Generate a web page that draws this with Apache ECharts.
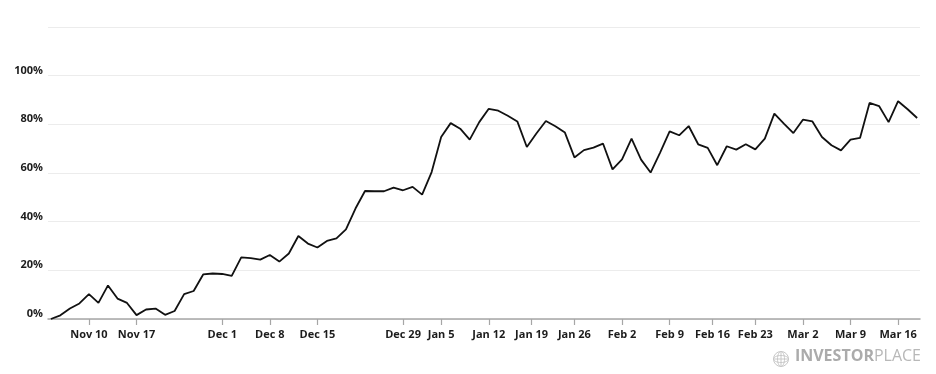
<!DOCTYPE html>
<html>
<head>
<meta charset="utf-8">
<script src="https://cdn.jsdelivr.net/npm/echarts@6/dist/echarts.min.js"></script>
<style>
  html, body { margin: 0; padding: 0; background: #fff; }
  #chart { width: 936px; height: 374px; }
</style>
</head>
<body>
<div id="chart"></div>
<script>
// Trading days shown on the chart
const dates = [
  '2025-11-04','2025-11-05','2025-11-06','2025-11-07','2025-11-10','2025-11-11','2025-11-12','2025-11-13','2025-11-14',
  '2025-11-17','2025-11-18','2025-11-19','2025-11-20','2025-11-21','2025-11-24','2025-11-25','2025-11-26','2025-11-28',
  '2025-12-01','2025-12-02','2025-12-03','2025-12-04','2025-12-05','2025-12-08','2025-12-09','2025-12-10','2025-12-11','2025-12-12',
  '2025-12-15','2025-12-16','2025-12-17','2025-12-18','2025-12-19','2025-12-22','2025-12-23','2025-12-24','2025-12-26',
  '2025-12-29','2025-12-30','2025-12-31','2026-01-02',
  '2026-01-05','2026-01-06','2026-01-07','2026-01-08','2026-01-09','2026-01-12','2026-01-13','2026-01-14','2026-01-15','2026-01-16',
  '2026-01-20','2026-01-21','2026-01-22','2026-01-23','2026-01-26','2026-01-27','2026-01-28','2026-01-29','2026-01-30',
  '2026-02-02','2026-02-03','2026-02-04','2026-02-05','2026-02-06','2026-02-09','2026-02-10','2026-02-11','2026-02-12','2026-02-13',
  '2026-02-17','2026-02-18','2026-02-19','2026-02-20','2026-02-23','2026-02-24','2026-02-25','2026-02-26','2026-02-27',
  '2026-03-02','2026-03-03','2026-03-04','2026-03-05','2026-03-06','2026-03-09','2026-03-10','2026-03-11','2026-03-12','2026-03-13',
  '2026-03-16','2026-03-17','2026-03-18'
];

// Cumulative return (%)
const values = [
  0, 1.5, 4.3, 6.4, 10.2, 6.6, 13.8, 8.4, 6.6,
  1.6, 3.9, 4.3, 1.7, 3.3, 10.2, 11.5, 18.3, 18.7,
  18.5, 17.7, 25.3, 25.0, 24.4, 26.3, 23.6, 26.9, 34.1, 31.0,
  29.4, 32.1, 33.1, 36.8, 45.4, 52.6, 52.5, 52.5, 54.0,
  52.9, 54.3, 51.1, 60.4,
  74.8, 80.5, 78.2, 73.7, 80.9, 86.4, 85.6, 83.5, 81.2, 70.7,
  76.2, 81.4, 79.2, 76.6, 66.4, 69.4, 70.4, 72.1, 61.5,
  65.6, 74.1, 65.5, 60.2, 68.4, 77.1, 75.5, 79.3, 71.8, 70.3,
  63.2, 71.0, 69.6, 71.8, 69.7, 74.1, 84.4, 80.3, 76.4,
  81.9, 81.2, 74.8, 71.4, 69.3, 73.7, 74.4, 88.8, 87.5, 80.9,
  89.5, 86.2, 82.6
];

// X-axis tick dates and their labels
const tickDates = [
  '2025-11-10','2025-11-17','2025-12-01','2025-12-08','2025-12-15','2025-12-29',
  '2026-01-05','2026-01-12','2026-01-19','2026-01-26','2026-02-02','2026-02-09',
  '2026-02-16','2026-02-23','2026-03-02','2026-03-09','2026-03-16'
];
const tickLabels = [
  'Nov 10','Nov 17','Dec 1','Dec 8','Dec 15','Dec 29',
  'Jan 5','Jan 12','Jan 19','Jan 26','Feb 2','Feb 9',
  'Feb 16','Feb 23','Mar 2','Mar 9','Mar 16'
];

// Y-axis
const yMin = 0, yMax = 120, yStep = 20;

// position of a tick date on the trading-day index scale
function posOf(d) {
  const i = dates.indexOf(d);
  if (i >= 0) return i;
  const j = dates.findIndex(x => x > d);
  return j - 0.5;  // non-trading day: halfway between neighbours
}
const tickPos = tickDates.map(posOf);

const chart = echarts.init(document.getElementById('chart'), null, { renderer: 'canvas' });

const FONT = '"Open Sans", "Noto Sans", sans-serif';

chart.setOption({
  animation: false,
  backgroundColor: '#ffffff',
  grid: { left: 48, right: 16, top: 27, bottom: 55, containLabel: false },
  xAxis: {
    type: 'value',
    min: -0.3,
    max: dates.length - 1 + 0.3,
    splitLine: { show: false },
    axisLine: { show: true, onZero: false, lineStyle: { color: '#a6a6a6', width: 1.5 } },
    axisTick: {
      show: true, length: 6, customValues: tickPos,
      lineStyle: { color: '#a6a6a6', width: 1.2 }
    },
    axisLabel: {
      customValues: tickPos,
      margin: 10,
      color: '#1c1c1c',
      fontFamily: FONT,
      fontWeight: 'bold',
      fontSize: 11,
      formatter: function (v) {
        const k = tickPos.findIndex(p => Math.abs(p - v) < 1e-6);
        return k >= 0 ? tickLabels[k] : '';
      }
    }
  },
  yAxis: {
    type: 'value',
    min: yMin,
    max: yMax,
    interval: yStep,
    axisLine: { show: false },
    axisTick: { show: false },
    splitLine: { show: true, lineStyle: { color: '#ececec', width: 1 } },
    axisLabel: {
      margin: 5,
      color: '#1c1c1c',
      fontFamily: FONT,
      fontWeight: 'bold',
      fontSize: 11,
      verticalAlign: 'bottom',
      lineHeight: 10,
      formatter: function (v) { return v === yMax ? '' : v + '%'; }
    }
  },
  series: [{
    type: 'line',
    data: values.map((v, i) => [i, v]),
    symbol: 'none',
    smooth: false,
    lineStyle: { color: '#111111', width: 1.8 },
    z: 5
  }],
  graphic: [
    {
      type: 'group',
      left: 771, top: 349,
      children: [
        { type: 'circle', shape: { cx: 8, cy: 8, r: 7.5 }, style: { fill: 'none', stroke: '#c8c8c8', lineWidth: 1 } },
        { type: 'ellipse', shape: { cx: 8, cy: 8, rx: 3.5, ry: 7.5 }, style: { fill: 'none', stroke: '#c8c8c8', lineWidth: 1 } },
        { type: 'ellipse', shape: { cx: 8, cy: 8, rx: 7.5, ry: 3.5 }, style: { fill: 'none', stroke: '#c8c8c8', lineWidth: 1 } },
        { type: 'line', shape: { x1: 8, y1: 0.5, x2: 8, y2: 15.5 }, style: { stroke: '#c8c8c8', lineWidth: 1 } },
        { type: 'line', shape: { x1: 0.5, y1: 8, x2: 15.5, y2: 8 }, style: { stroke: '#c8c8c8', lineWidth: 1 } }
      ]
    },
    {
      type: 'text',
      right: 15, top: 348,
      style: {
        text: '{a|INVESTOR}{b|PLACE}',
        rich: {
          a: { fontFamily: FONT, fontSize: 16, fontWeight: 'bold', fill: '#ababab' },
          b: { fontFamily: FONT, fontSize: 16, fontWeight: 'normal', fill: '#b8b8b8' }
        }
      }
    }
  ]
});
</script>
</body>
</html>
